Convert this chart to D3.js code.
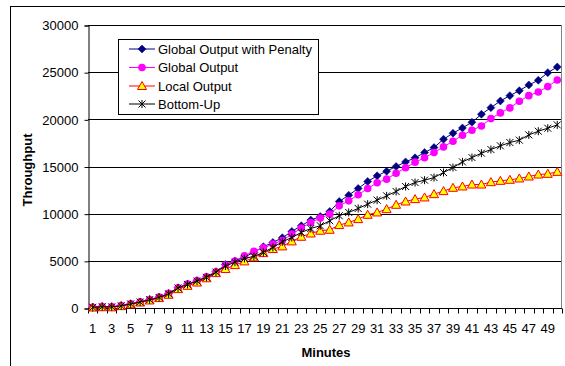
<!DOCTYPE html>
<html><head><meta charset="utf-8">
<script src="https://cdn.jsdelivr.net/npm/d3@7"></script>
<style>body{margin:0;background:#fff}svg{display:block}text{font-family:"Liberation Sans",Arial,sans-serif}</style>
</head><body>
<svg id="c" width="565" height="366"></svg>
<script>
const minutes = d3.range(1, 51);
const xTickLabels = d3.range(1, 50, 2);
const yTicks = [0, 5000, 10000, 15000, 20000, 25000, 30000];
const seriesNames = ["Global Output with Penalty", "Global Output", "Local Output", "Bottom-Up"];
const penalty = [80,150,130,250,450,650,900,1150,1550,2150,2550,2900,3300,3850,4600,4980,5400,5900,6490,6950,7450,8120,8720,9320,9700,10230,11290,11960,12670,13410,14010,14500,15000,15490,15920,16480,17010,17890,18530,19090,19690,20540,21240,21950,22510,23040,23640,24140,24950,25550];
const globalOut = [80,150,130,250,450,650,900,1150,1550,2150,2550,2900,3300,3850,4550,4980,5540,6000,6390,6780,7160,7830,8470,9070,9530,9950,10830,11360,12000,12670,13270,13660,14290,14860,15460,15920,16480,17080,17680,18320,18840,19300,20080,20680,21210,21920,22510,22900,23470,24170];
const localOut = [50,80,70,200,380,580,800,1050,1400,2000,2350,2700,3150,3700,4130,4550,4940,5360,5820,6250,6530,7060,7550,7900,8190,8290,8790,9070,9420,9880,10130,10480,10940,11290,11540,11720,12070,12390,12740,12880,13090,13090,13340,13480,13590,13730,13940,14150,14220,14430];
const bottomUp = [70,130,120,230,430,630,880,1120,1500,2120,2500,2850,3250,3800,4450,4850,5250,5470,5890,6420,7020,7480,8010,8430,8720,9250,9780,10130,10550,11010,11430,11890,12350,12880,13300,13550,13830,14360,14890,15490,15950,16410,16800,17190,17540,17790,18350,18740,19060,19410];

const svg = d3.select("#c");
const L = 88, R = 562, T = 25, B = 308;
const x = d3.scaleBand().domain(minutes).range([L, R]).padding(0);
const y = d3.scaleLinear().domain([0, 30000]).range([B, T]);
const cx = d => x(d) + x.bandwidth() / 2;

// outer frame
svg.append("rect").attr("x", 10.5).attr("y", 6.5).attr("width", 600).attr("height", 400)
  .attr("fill", "none").attr("stroke", "#000").attr("stroke-width", 1);

// gridlines
svg.append("g").selectAll("line").data(yTicks.filter(v => v > 0 && v < 30000)).join("line")
  .attr("x1", L).attr("x2", R).attr("y1", d => Math.round(y(d)) + 0.5).attr("y2", d => Math.round(y(d)) + 0.5)
  .attr("stroke", "#000").attr("stroke-width", 1);
// plot border top/right
svg.append("line").attr("x1", L).attr("x2", R).attr("y1", Math.round(y(30000)) + 0.5).attr("y2", Math.round(y(30000)) + 0.5).attr("stroke", "#000");
svg.append("line").attr("x1", R - 0.5).attr("x2", R - 0.5).attr("y1", T).attr("y2", B).attr("stroke", "#808080");

// y axis
const yAxis = svg.append("g").attr("transform", `translate(${L + 0.5},0.5)`)
  .call(d3.axisLeft(y).tickValues(yTicks).tickSize(4).tickFormat(d3.format("d")));
yAxis.select(".domain").attr("stroke", "#000");
yAxis.selectAll("text").attr("font-size", 13).attr("x", -10).attr("fill", "#000").attr("font-family", "Liberation Sans, Arial, sans-serif");

// x axis line and ticks at band boundaries
const xb = Math.round(B) + 0.5;
svg.append("line").attr("x1", L).attr("x2", R).attr("y1", xb).attr("y2", xb).attr("stroke", "#000");
svg.append("g").selectAll("line").data(minutes.concat([51])).join("line")
  .attr("x1", d => Math.round(d <= 50 ? x(d) : R) + 0.5).attr("x2", d => Math.round(d <= 50 ? x(d) : R) + 0.5)
  .attr("y1", xb).attr("y2", xb + 5).attr("stroke", "#000");
svg.append("g").selectAll("text").data(xTickLabels).join("text")
  .attr("x", d => cx(d)).attr("y", 333).attr("text-anchor", "middle").attr("font-size", 13).text(d => d);

// axis titles
svg.append("text").attr("x", 326).attr("y", 357).attr("text-anchor", "middle")
  .attr("font-size", 13).attr("font-weight", "bold").text("Minutes");
svg.append("text").attr("transform", "translate(32,170) rotate(-90)").attr("text-anchor", "middle")
  .attr("font-size", 13).attr("font-weight", "bold").text("Throughput");

// series
const diamond = "M0,-4L4,0L0,4L-4,0Z";
const tri = "M0,-4.5L4.5,3.5L-4.5,3.5Z";
const star = "M-3.5,-3.5L3.5,3.5M-3.5,3.5L3.5,-3.5M0,-4L0,4";
const series = [
  {name: seriesNames[0], values: penalty, line: "#000080", marker: "diamond"},
  {name: seriesNames[1], values: globalOut, line: "#FF00FF", marker: "circle"},
  {name: seriesNames[2], values: localOut, line: "#FF0000", marker: "triangle"},
  {name: seriesNames[3], values: bottomUp, line: "#000000", marker: "star"}
];
function drawMarker(g, m) {
  if (m === "diamond") g.append("path").attr("d", diamond).attr("fill", "#000080").attr("stroke", "#000080").attr("stroke-width", 0.5);
  else if (m === "circle") g.append("circle").attr("r", 3.8).attr("fill", "#FF00FF");
  else if (m === "triangle") g.append("path").attr("d", tri).attr("fill", "#FFFF00").attr("stroke", "#FF0000").attr("stroke-width", 1);
  else g.append("path").attr("d", star).attr("fill", "none").attr("stroke", "#000").attr("stroke-width", 1);
}
const line = d3.line().x((d, i) => cx(minutes[i])).y(d => y(d));
series.forEach(s => {
  const g = svg.append("g");
  g.append("path").attr("d", line(s.values)).attr("fill", "none").attr("stroke", s.line).attr("stroke-width", 1);
  s.values.forEach((v, i) => {
    const mg = g.append("g").attr("transform", `translate(${cx(minutes[i])},${y(v)})`);
    drawMarker(mg, s.marker);
  });
});

// legend
const lg = svg.append("g");
lg.append("rect").attr("x", 118.5).attr("y", 39.5).attr("width", 200).attr("height", 75)
  .attr("fill", "#fff").attr("stroke", "#000");
const ly = [49, 67.5, 86, 104];
series.forEach((s, i) => {
  lg.append("line").attr("x1", 129).attr("x2", 155).attr("y1", ly[i]).attr("y2", ly[i]).attr("stroke", s.line);
  const mg = lg.append("g").attr("transform", `translate(142,${ly[i]})`);
  drawMarker(mg, s.marker);
  lg.append("text").attr("x", 158).attr("y", ly[i] + 4.5).attr("font-size", 13).text(s.name);
});
</script>
</body></html>
